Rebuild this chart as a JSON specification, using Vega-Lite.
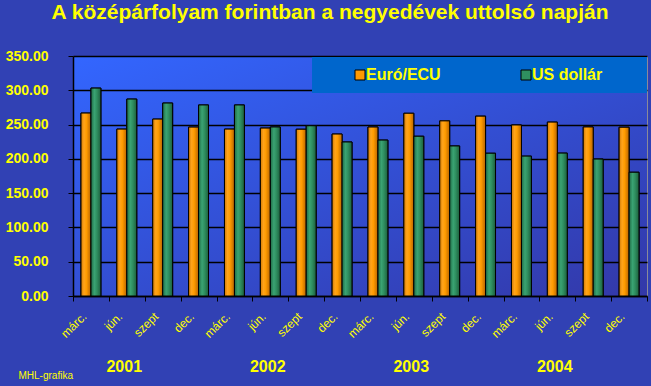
{
  "$schema": "https://vega.github.io/schema/vega-lite/v6.json",
  "autosize": {"type": "none"},
  "width": 574,
  "height": 240,
  "padding": {"left": 73, "top": 56, "right": 4, "bottom": 90},
  "background": "#3141B4",
  "title": {
    "text": "A középárfolyam forintban a negyedévek uttolsó napján",
    "font": "Liberation Sans",
    "fontSize": 21,
    "fontWeight": "bold",
    "color": "#FFFF00",
    "anchor": "middle",
    "dx": -30,
    "offset": 26
  },
  "config": {
    "view": {
      "fill": {"gradient": "linear", "x1": 0, "y1": 0, "x2": 1, "y2": 1,
        "stops": [{"offset": 0, "color": "#3366FF"}, {"offset": 1, "color": "#3338A8"}]},
      "stroke": "#8A8A9A",
      "strokeWidth": 1
    },
    "axis": {"labelColor": "#FFFF00", "domainColor": "#000000", "tickColor": "#000000", "labelFont": "Liberation Sans"}
  },
  "data": {
    "values": [
      {"q": "2001|márc.", "year": "2001", "series": "Euró/ECU", "value": 266.8},
      {"q": "2001|márc.", "year": "2001", "series": "US dollár", "value": 303.2},
      {"q": "2001|jún.", "year": "2001", "series": "Euró/ECU", "value": 243.4},
      {"q": "2001|jún.", "year": "2001", "series": "US dollár", "value": 287.2},
      {"q": "2001|szept", "year": "2001", "series": "Euró/ECU", "value": 258.0},
      {"q": "2001|szept", "year": "2001", "series": "US dollár", "value": 281.4},
      {"q": "2001|dec.", "year": "2001", "series": "Euró/ECU", "value": 246.3},
      {"q": "2001|dec.", "year": "2001", "series": "US dollár", "value": 278.6},
      {"q": "2002|márc.", "year": "2002", "series": "Euró/ECU", "value": 243.4},
      {"q": "2002|márc.", "year": "2002", "series": "US dollár", "value": 278.6},
      {"q": "2002|jún.", "year": "2002", "series": "Euró/ECU", "value": 244.9},
      {"q": "2002|jún.", "year": "2002", "series": "US dollár", "value": 246.5},
      {"q": "2002|szept", "year": "2002", "series": "Euró/ECU", "value": 243.2},
      {"q": "2002|szept", "year": "2002", "series": "US dollár", "value": 248.3},
      {"q": "2002|dec.", "year": "2002", "series": "Euró/ECU", "value": 236.2},
      {"q": "2002|dec.", "year": "2002", "series": "US dollár", "value": 224.6},
      {"q": "2003|márc.", "year": "2003", "series": "Euró/ECU", "value": 246.4},
      {"q": "2003|márc.", "year": "2003", "series": "US dollár", "value": 227.4},
      {"q": "2003|jún.", "year": "2003", "series": "Euró/ECU", "value": 266.5},
      {"q": "2003|jún.", "year": "2003", "series": "US dollár", "value": 233.0},
      {"q": "2003|szept", "year": "2003", "series": "Euró/ECU", "value": 255.4},
      {"q": "2003|szept", "year": "2003", "series": "US dollár", "value": 218.8},
      {"q": "2003|dec.", "year": "2003", "series": "Euró/ECU", "value": 262.3},
      {"q": "2003|dec.", "year": "2003", "series": "US dollár", "value": 208.2},
      {"q": "2004|márc.", "year": "2004", "series": "Euró/ECU", "value": 249.4},
      {"q": "2004|márc.", "year": "2004", "series": "US dollár", "value": 204.0},
      {"q": "2004|jún.", "year": "2004", "series": "Euró/ECU", "value": 253.6},
      {"q": "2004|jún.", "year": "2004", "series": "US dollár", "value": 208.4},
      {"q": "2004|szept", "year": "2004", "series": "Euró/ECU", "value": 246.5},
      {"q": "2004|szept", "year": "2004", "series": "US dollár", "value": 199.7},
      {"q": "2004|dec.", "year": "2004", "series": "Euró/ECU", "value": 246.1},
      {"q": "2004|dec.", "year": "2004", "series": "US dollár", "value": 180.5}
    ]
  },
  "encoding": {
    "y": {
      "field": "value", "type": "quantitative",
      "scale": {"domain": [0, 350], "nice": false},
      "axis": {
        "title": null,
        "values": [0, 50, 100, 150, 200, 250, 300, 350],
        "format": ".2f",
        "labelOverlap": false,
        "labelFontSize": 14,
        "labelFontWeight": "bold",
        "labelPadding": 20,
        "tickSize": 5,
        "gridColor": "#000000",
        "gridWidth": 1.5,
        "domainWidth": 1.5
      }
    }
  },
  "layer": [
    {
      "encoding": {
        "x": {
          "field": "q", "type": "nominal", "sort": null,
          "scale": {"paddingInner": 0, "paddingOuter": 0},
          "axis": {
            "orient": "bottom",
            "title": null,
            "labelExpr": "split(datum.value, '|')[1]",
            "labelAngle": -45,
            "labelAlign": "right",
            "labelBaseline": "middle",
            "labelFontSize": 12,
            "labelPadding": 13,
            "labelOffset": -7,
            "tickBand": "extent",
            "tickSize": 5,
            "domainWidth": 1.5,
            "grid": false
          }
        },
        "xOffset": {
          "field": "series", "type": "nominal",
          "sort": ["Euró/ECU", "US dollár"],
          "scale": {"domain": ["Euró/ECU", "US dollár"], "paddingInner": 0, "paddingOuter": 0.8}
        }
      },
      "layer": [
        {
          "mark": {"type": "bar", "stroke": "#000000", "strokeWidth": 1},
          "encoding": {
            "color": {
              "field": "series", "type": "nominal",
              "sort": ["Euró/ECU", "US dollár"],
              "scale": {"domain": ["Euró/ECU", "US dollár"], "range": ["#FF9900", "#2F8F60"]},
              "legend": {
                "title": "\u00a0",
                "titleOrient": "right",
                "titlePadding": 35,
                "titleFontSize": 16,
                "orient": "none",
                "legendX": 239,
                "legendY": 1,
                "direction": "horizontal",
                "fillColor": "#0066CC",
                "padding": 10,
                "symbolType": "square",
                "symbolSize": 100,
                "symbolStrokeColor": "#000000",
                "symbolStrokeWidth": 1,
                "symbolOffset": 30,
                "labelOffset": -2,
                "labelColor": "#FFFF00",
                "labelFont": "Liberation Sans",
                "labelFontSize": 16,
                "labelFontWeight": "bold",
                "columnPadding": 47
              }
            }
          }
        },
        {
          "transform": [{"filter": "datum.series == 'Euró/ECU'"}],
          "mark": {
            "type": "bar", "stroke": "#000000", "strokeWidth": 1,
            "fill": {"gradient": "linear", "x1": 0, "y1": 0, "x2": 1, "y2": 0,
              "stops": [
                {"offset": 0, "color": "#D07800"},
                {"offset": 0.3, "color": "#FFA41C"},
                {"offset": 0.55, "color": "#FF9C00"},
                {"offset": 1, "color": "#B86400"}
              ]}
          }
        },
        {
          "transform": [{"filter": "datum.series == 'US dollár'"}],
          "mark": {
            "type": "bar", "stroke": "#000000", "strokeWidth": 1,
            "fill": {"gradient": "linear", "x1": 0, "y1": 0, "x2": 1, "y2": 0,
              "stops": [
                {"offset": 0, "color": "#1F6B45"},
                {"offset": 0.35, "color": "#3AA373"},
                {"offset": 0.6, "color": "#2F8F60"},
                {"offset": 1, "color": "#1C5E3D"}
              ]}
          }
        }
      ]
    },
    {
      "mark": {"type": "point", "opacity": 0},
      "encoding": {
        "x": {
          "field": "year", "type": "ordinal",
          "scale": {"paddingInner": 0, "paddingOuter": 0},
          "axis": {
            "orient": "bottom",
            "title": "MHL-grafika",
            "titleColor": "#FFFF00",
            "titleFont": "Liberation Sans",
            "titleFontSize": 10,
            "titleFontWeight": "normal",
            "titleAnchor": "start",
            "titleAlign": "left",
            "titleBaseline": "alphabetic",
            "titleX": -55,
            "titleY": 82,
            "domain": false,
            "ticks": false,
            "grid": false,
            "labelAngle": 0,
            "labelFontSize": 16,
            "labelFontWeight": "bold",
            "labelPadding": 62,
            "labelOffset": -21
          }
        }
      }
    }
  ],
  "resolve": {"scale": {"x": "independent"}, "axis": {"x": "independent"}}
}
